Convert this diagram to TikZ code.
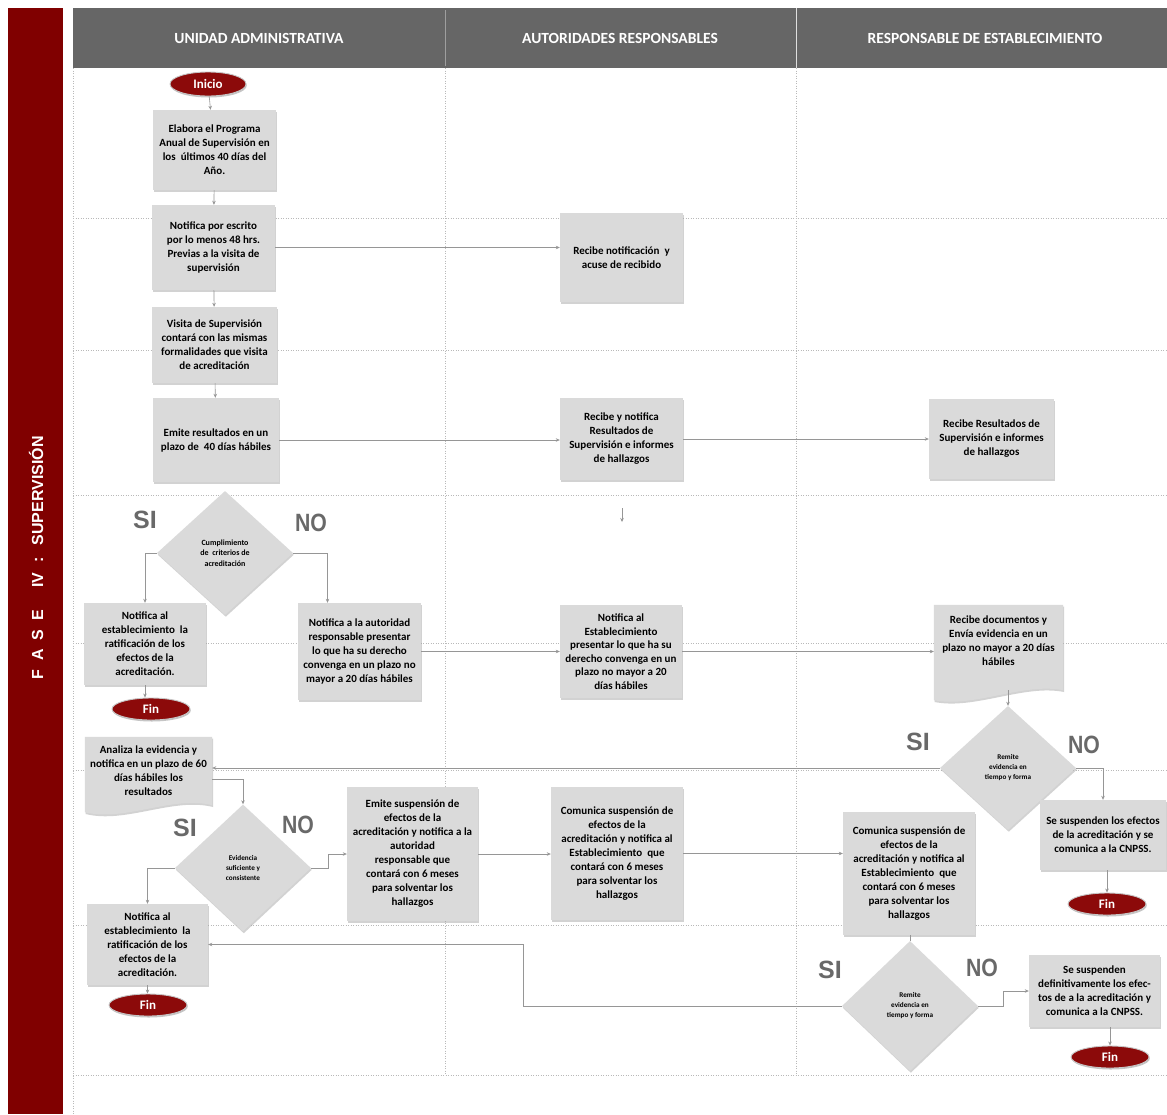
\documentclass[tikz,border=0pt]{standalone}
\usepackage{fontspec}
\setmainfont{Carlito}
\newfontfamily\arialf{Liberation Sans}
\usetikzlibrary{shapes.geometric,arrows.meta,shadows,calc}
\definecolor{bandred}{RGB}{128,0,0}
\definecolor{headgray}{RGB}{102,102,102}
\definecolor{boxfill}{RGB}{218,218,218}
\definecolor{termred}{RGB}{140,10,10}
\definecolor{linegray}{RGB}{150,150,150}
\definecolor{gridgray}{RGB}{185,185,185}
\definecolor{labgray}{RGB}{105,105,105}
\begin{document}
\begin{tikzpicture}[x=1pt,y=-1pt,
  gridline/.style={draw=gridgray, line width=0.5pt, dash pattern=on 1pt off 1.5pt},
  boxshadow/.style={drop shadow={shadow xshift=0.8pt, shadow yshift=-1.8pt, fill=black!35}},
  box/.style={rectangle, fill=boxfill, inner sep=1pt, align=center,
    font=\bfseries\fontsize{11}{14}\selectfont, boxshadow},
  docbox/.style={rectangle, inner sep=1pt, align=center,
    font=\bfseries\fontsize{11}{14}\selectfont},
  dec/.style={diamond, fill=boxfill, inner sep=0pt, align=center,
    font=\bfseries\fontsize{8}{10.5}\selectfont, boxshadow},
  smalldec/.style={font=\bfseries\fontsize{7.2}{10}\selectfont},
  term/.style={ellipse, fill=termred, draw=gray!45, line width=0.9pt, text=white,
    font=\bfseries\fontsize{13}{13}\selectfont, minimum width=78pt, minimum height=22pt,
    inner sep=0pt, drop shadow={shadow xshift=0.8pt, shadow yshift=-1.5pt, fill=black!45}},
  conn/.style={draw=linegray, line width=0.6pt, -{Stealth[length=4pt,width=3.5pt]}},
  plainconn/.style={draw=linegray, line width=0.6pt},
  yesno/.style={font=\arialf\bfseries\fontsize{25}{25}\selectfont, text=labgray, inner sep=0pt},
  headtxt/.style={text=white, font=\bfseries\fontsize{15.5}{15.5}\selectfont}
]
\useasboundingbox (0,0) rectangle (1167,1114);
\fill[white] (0,0) rectangle (1167,1114);

% band and header
\fill[bandred] (8,8) rectangle (63,1114);
\fill[headgray] (73,8) rectangle (1167,68);
\draw[gray!75, line width=0.5pt] (445,10) -- (445,66);
\draw[gray!25, line width=0.8pt] (796,8) -- (796,68);
\node[text=white, font=\arialf\bfseries\fontsize{16}{16}\selectfont, rotate=90] (fase) at (36,558)
  {F\hspace{9pt}A\hspace{9pt}S\hspace{9pt}E\hspace{22pt}IV\hspace{10pt}:\hspace{12pt}SUPERVISIÓN};
\node[headtxt] (h1) at (259,38) {UNIDAD ADMINISTRATIVA};
\node[headtxt] (h2) at (620,38) {AUTORIDADES RESPONSABLES};
\node[headtxt] (h3) at (985,38) {RESPONSABLE DE ESTABLECIMIENTO};

% grid
\foreach \yy in {218,350,495,643,770,925,1075}
  \draw[gridline] (73,\yy) -- (1167,\yy);
\draw[gridline] (73,68) -- (73,1114);
\draw[gridline] (445,68) -- (445,1075);
\draw[gridline] (796,68) -- (796,1075);

% nodes
\node[term, minimum width=76pt, minimum height=24pt] (ini) at (208,84) {Inicio};
\node[box, minimum width=123pt, minimum height=80pt] (elab) at (214.5,150)
  {Elabora el Programa\\Anual de Supervisión en\\los \ últimos 40 días del\\Año.};
\node[box, minimum width=123pt, minimum height=85pt] (notesc) at (213.5,247.5)
  {Notifica por escrito\\por lo menos 48 hrs.\\Previas a la visita de\\supervisión};
\node[box, minimum width=123pt, minimum height=89pt] (recnot) at (621.5,257.5)
  {Recibe notificación \ y\\acuse de recibido};
\node[box, minimum width=125pt, minimum height=76pt] (visita) at (214.5,345)
  {Visita de Supervisión\\contará con las mismas\\formalidades que visita\\de acreditación};
\node[box, minimum width=126pt, minimum height=84pt] (emite) at (216,440)
  {Emite resultados en un\\plazo de \ 40 días hábiles};
\node[box, minimum width=123pt, minimum height=82pt] (recynot) at (621.5,439)
  {Recibe y notifica\\Resultados de\\Supervisión e informes\\de hallazgos};
\node[box, minimum width=125pt, minimum height=80pt] (recres) at (991.5,439)
  {Recibe Resultados de\\Supervisión e informes\\de hallazgos};

\node[dec, minimum width=136pt, minimum height=124pt] (d1) at (225,553)
  {Cumplimiento\\de \ criterios de\\acreditación};
\node[yesno] (si1) at (145,520) {SI};
\node[yesno] (no1) at (311,523) {\scalebox{0.85}[1]{NO}};

\node[box, minimum width=122pt, minimum height=82pt] (not1) at (145,644)
  {Notifica al\\establecimiento \ la\\ratificación de los\\efectos de la\\acreditación.};
\node[term] (fin1) at (151,709) {Fin};
\node[box, minimum width=123pt, minimum height=97pt] (notaut) at (359.5,651.5)
  {Notifica a la autoridad\\responsable presentar\\lo que ha su derecho\\convenga en un plazo no\\mayor a 20 días hábiles};
\node[box, minimum width=122pt, minimum height=93pt, font=\bfseries\fontsize{11}{13.5}\selectfont] (notest) at (621,651.5)
  {Notifica al\\Establecimiento\\presentar lo que ha su\\derecho convenga en un\\plazo no mayor a 20\\días hábiles};

% document shape: Recibe documentos
\node[docbox, minimum width=129pt, minimum height=72pt] (recdoc) at (998.5,641)
  {Recibe documentos y\\Envía evidencia en un\\plazo no mayor a 20 días\\hábiles};
\fill[boxfill, boxshadow] (recdoc.north west) -- (recdoc.north east) -- ([yshift=-13pt]recdoc.south east)
  .. controls ($(recdoc.south east)+(-40,5)$) and ($(recdoc.south west)+(40,31)$) .. ([yshift=-23pt]recdoc.south west) -- cycle;
\node[docbox, minimum width=129pt, minimum height=72pt] at (recdoc) {Recibe documentos y\\Envía evidencia en un\\plazo no mayor a 20 días\\hábiles};

\node[dec, smalldec, minimum width=136pt, minimum height=124pt] (d2) at (1008,768)
  {Remite\\evidencia en\\tiempo y forma};
\node[yesno] (si2) at (918,742) {SI};
\node[yesno] (no2) at (1084,745) {\scalebox{0.85}[1]{NO}};
\node[box, minimum width=126pt, minimum height=70pt] (sesus) at (1103,835)
  {Se suspenden los efectos\\de la acreditación y se\\comunica a la CNPSS.};
\node[term] (fin3) at (1107,904) {Fin};

% document shape: Analiza
\node[docbox, minimum width=127pt, minimum height=68pt] (ana) at (148.5,771)
  {Analiza la evidencia y\\notifica en un plazo de 60\\días hábiles los\\resultados};
\fill[boxfill, boxshadow] (ana.north west) -- (ana.north east) -- (ana.south east)
  .. controls ($(ana.south east)+(-40,-10)$) and ($(ana.south west)+(40,17)$) .. ([yshift=-7pt]ana.south west) -- cycle;
\node[docbox, minimum width=127pt, minimum height=68pt] at (ana) {Analiza la evidencia y\\notifica en un plazo de 60\\días hábiles los\\resultados};

\node[dec, smalldec, minimum width=136pt, minimum height=127pt] (d3) at (243,868)
  {Evidencia\\suficiente y\\consistente};
\node[yesno] (si3) at (185,828) {SI};
\node[yesno] (no3) at (298,825) {\scalebox{0.85}[1]{NO}};

\node[box, minimum width=121pt, minimum height=81pt] (not2) at (147.5,944.5)
  {Notifica al\\establecimiento \ la\\ratificación de los\\efectos de la\\acreditación.};
\node[term] (fin2) at (148,1005) {Fin};

\node[box, minimum width=131pt, minimum height=134pt] (emsus) at (412.5,854)
  {Emite suspensión de\\efectos de la\\acreditación y notifica a la\\autoridad\\responsable que\\contará con 6 meses\\para solventar los\\hallazgos};
\node[box, minimum width=132pt, minimum height=133pt] (com1) at (617,853.5)
  {Comunica suspensión de\\efectos de la\\acreditación y notifica al\\Establecimiento \ que\\contará con 6 meses\\para solventar los\\hallazgos};
\node[box, minimum width=132pt, minimum height=123pt] (com2) at (909,873.5)
  {Comunica suspensión de\\efectos de la\\acreditación y notifica al\\Establecimiento \ que\\contará con 6 meses\\para solventar los\\hallazgos};

\node[dec, smalldec, minimum width=136pt, minimum height=130pt] (d4) at (910,1006)
  {Remite\\evidencia en\\tiempo y forma};
\node[yesno] (si4) at (830,970) {SI};
\node[yesno] (no4) at (982,968) {\scalebox{0.85}[1]{NO}};
\node[box, minimum width=131pt, minimum height=72pt] (sesdef) at (1094.5,991)
  {Se suspenden\\definitivamente los efec-\\tos de a la acreditación y\\comunica a la CNPSS.};
\node[term] (fin4) at (1110,1057) {Fin};

\coordinate (s1) at (622,508);
\coordinate (s2) at (622,522);
\coordinate (k) at (523,0);

% connectors
\draw[conn] (ini) -- (elab);
\draw[conn] (elab) -- (notesc);
\draw[conn] (notesc.east) -- (notesc.east -| recnot.west);
\draw[conn] (notesc) -- (visita);
\draw[conn] (visita) -- (emite);
\draw[conn] (emite.east) -- (emite.east -| recynot.west);
\draw[conn] (recynot.east) -- (recynot.east -| recres.west);
\draw[conn] (s1) -- (s2);
\draw[conn] (d1.west) -| (not1.north);
\draw[conn] (not1.south) -- (not1.south |- fin1.north);
\draw[conn] (d1.east) -| ([xshift=-32pt]notaut.north);
\draw[conn] (notaut.east) -- (notaut.east -| notest.west);
\draw[conn] (notest.east) -- (notest.east -| recdoc.west);
\draw[conn] ([yshift=-13pt]recdoc.south -| d2.north) -- (d2.north);
\draw[conn] (d2.west) -- (d2.west -| ana.east);
\draw[conn] (d2.east) -| (sesus.north);
\draw[conn] (sesus.south -| fin3.north) -- (fin3.north);
\draw[conn] ([yshift=-8pt]ana.east) -| (d3.north);
\draw[conn] (d3.west) -| (not2.north);
\draw[conn] (not2.south) -- (not2.south |- fin2.north);
\draw[conn] (d3.east) -- ([xshift=17pt]d3.east) |- (emsus.west);
\draw[conn] (emsus.east) -- (emsus.east -| com1.west);
\draw[conn] (com1.east) -- (com1.east -| com2.west);
\draw[plainconn] (com2.south -| d4.north) -- (d4.north);
\draw[conn] (d4.west) -- (d4.west -| k) |- (not2.east);
\draw[conn] (d4.east) -- ([xshift=25pt]d4.east) |- (sesdef.west);
\draw[conn] (sesdef.south -| fin4.north) -- (fin4.north);
\end{tikzpicture}
\end{document}
